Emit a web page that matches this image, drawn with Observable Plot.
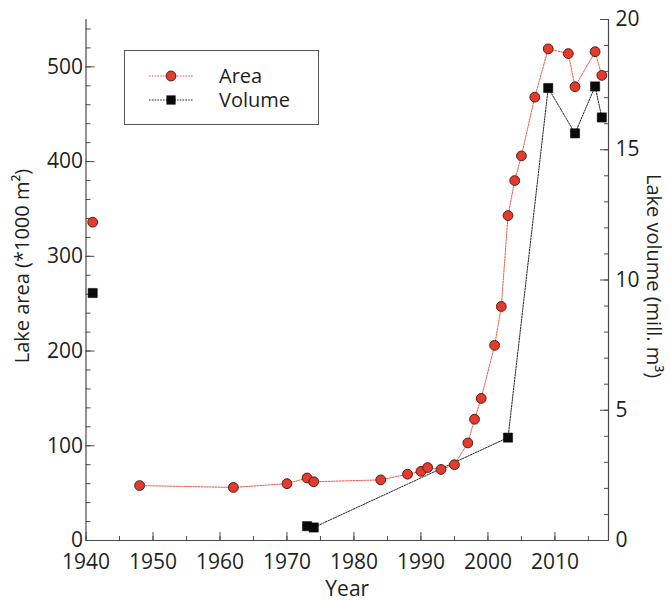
<!DOCTYPE html>
<html>
<head>
<meta charset="utf-8">
<script src="https://cdn.jsdelivr.net/npm/d3@7"></script>
<script src="https://cdn.jsdelivr.net/npm/@observablehq/plot@0.6"></script>
<style>
  html, body { margin: 0; padding: 0; background: #fff; }
  #chart { width: 670px; height: 601px; }
</style>
</head>
<body>
<div id="chart"></div>
<script>
// ---- data ----
const areaYears  = [1941, 1948, 1962, 1970, 1973, 1974, 1984, 1988, 1990, 1991, 1993, 1995, 1997, 1998, 1999, 2001, 2002, 2003, 2004, 2005, 2007, 2009, 2012, 2013, 2016, 2017];
const areaValues = [336, 58, 56, 60, 66, 62, 64, 70, 73, 77, 75, 80, 103, 128, 150, 206, 247, 343, 380, 406, 468, 519, 514, 479, 516, 491];
const volumeYears  = [1941, 1973, 1974, 2003, 2009, 2013, 2016, 2017];
const volumeValues = [9.5, 0.55, 0.5, 3.95, 17.37, 15.63, 17.43, 16.24];

const xTicks = [1940, 1950, 1960, 1970, 1980, 1990, 2000, 2010];
const areaTicks = [0, 100, 200, 300, 400, 500];
const volumeTicks = [0, 5, 10, 15, 20];
const xDomain = [1940, 2018];
const areaDomain = [0, 550];
const volumeDomainMax = 20;
const seriesNames = ["Area", "Volume"];
const xLabel = "Year";
const areaLabel = "Lake area (*1000 m\u00B2)";
const volumeLabel = "Lake volume (mill. m\u00B3)";

// ---- build ----
const K = areaDomain[1] / volumeDomainMax; // area units per volume unit
const area = areaYears.map((year, i) => ({year, value: areaValues[i]}));
const volume = volumeYears.map((year, i) => ({year, value: volumeValues[i] * K}));

const xMinor = d3.range(xDomain[0], xDomain[1] + 0.1, 5);
const areaMinor = d3.range(0, areaDomain[1] + 0.1, 20);
const volMinor = d3.range(0, volumeDomainMax + 0.1, 1).map(v => v * K);

const red = "#e33b2e", redStroke = "#5e1a12", redLine = "#e8574c";
const textColor = "#231f20", axisColor = "#4a4a4a";

const chart = Plot.plot({
  width: 670,
  height: 601,
  marginLeft: 85.5,
  marginRight: 62,
  marginTop: 19,
  marginBottom: 61,
  style: {fontFamily: "'Open Sans', sans-serif", fontSize: "21px", color: textColor, background: "white", overflow: "visible"},
  x: {domain: xDomain},
  y: {domain: areaDomain},
  marks: [
    // frame lines
    Plot.ruleX(xDomain, {stroke: axisColor, strokeWidth: 1.2}),
    Plot.ruleY([0], {stroke: axisColor, strokeWidth: 1.2}),
    // x ticks (inward)
    Plot.axisX(xMinor, {fill: "none", tickSize: 4, dy: -4, stroke: axisColor, label: null}),
    Plot.axisX(xTicks, {fill: "none", tickSize: 8, dy: -8, stroke: axisColor, label: null}),
    Plot.axisX(xTicks, {tickSize: 0, tickPadding: 14, tickFormat: d => String(d), label: null, fill: textColor}),
    // left ticks
    Plot.axisY(areaMinor, {anchor: "left", fill: "none", tickSize: 5, dx: 5, stroke: axisColor, label: null}),
    Plot.axisY(areaTicks, {anchor: "left", fill: "none", tickSize: 9, dx: 9, stroke: axisColor, label: null}),
    Plot.axisY(areaTicks, {anchor: "left", tickSize: 0, tickPadding: 3, label: null, fill: textColor}),
    // right ticks
    Plot.axisY(volMinor, {anchor: "right", fill: "none", tickSize: 5, dx: -5, stroke: axisColor, label: null}),
    Plot.axisY(volumeTicks.map(v => v * K), {anchor: "right", fill: "none", tickSize: 9, dx: -9, stroke: axisColor, label: null}),
    Plot.axisY(volumeTicks.map(v => v * K), {anchor: "right", tickSize: 0, tickPadding: 7, label: null, fill: textColor,
      tickFormat: d => String(Math.round(d / K))}),
    // axis labels
    Plot.text([xLabel], {frameAnchor: "bottom", dy: 49, textAnchor: "middle", lineAnchor: "middle", text: d => d, fill: textColor}),
    Plot.text([areaLabel], {frameAnchor: "left", dx: -63, dy: -14, rotate: -90, textAnchor: "middle", lineAnchor: "middle", text: d => d, fill: textColor, fontSize: 20}),
    Plot.text([volumeLabel], {frameAnchor: "right", dx: 45, dy: -4, rotate: 90, textAnchor: "middle", lineAnchor: "middle", text: d => d, fill: textColor, fontSize: 20}),
    // series
    Plot.line(area.slice(1), {x: "year", y: "value", stroke: redLine, strokeWidth: 1, strokeDasharray: "1.6 1.2"}),
    Plot.line(volume.slice(1), {x: "year", y: "value", stroke: "#222", strokeWidth: 1, strokeDasharray: "1.6 1.2"}),
    Plot.dot(area, {x: "year", y: "value", r: 4.9, fill: red, stroke: redStroke, strokeWidth: 1}),
    Plot.dot(volume, {x: "year", y: "value", symbol: "square", r: 5.2, fill: "#0a0a0a", stroke: "#000", strokeWidth: 0.5})
  ]
});

document.getElementById("chart").appendChild(chart);

// ---- legend (inside plot) ----
const svg = d3.select(chart);
const lg = svg.append("g").attr("font-family", "'Open Sans', sans-serif").attr("font-size", 20)
  .attr("fill", textColor).attr("text-anchor", "start");
lg.append("rect").attr("x", 124.5).attr("y", 50.5).attr("width", 194).attr("height", 74)
  .attr("fill", "white").attr("stroke", "#555").attr("stroke-width", 1);
const rows = [
  {name: seriesNames[0], y: 76, line: redLine},
  {name: seriesNames[1], y: 100, line: "#222"}
];
rows.forEach((r, i) => {
  lg.append("line").attr("x1", 149).attr("x2", 193).attr("y1", r.y).attr("y2", r.y)
    .attr("stroke", r.line).attr("stroke-width", 1).attr("stroke-dasharray", "1.6 1.2");
  if (i === 0) {
    lg.append("circle").attr("cx", 171).attr("cy", r.y).attr("r", 4.9).attr("fill", red).attr("stroke", redStroke);
  } else {
    lg.append("rect").attr("x", 171 - 4.6).attr("y", r.y - 4.6).attr("width", 9.2).attr("height", 9.2).attr("fill", "#0a0a0a");
  }
  lg.append("text").attr("x", 219).attr("y", r.y).attr("dy", "0.35em").attr("text-anchor", "start").text(r.name);
});
</script>
</body>
</html>
